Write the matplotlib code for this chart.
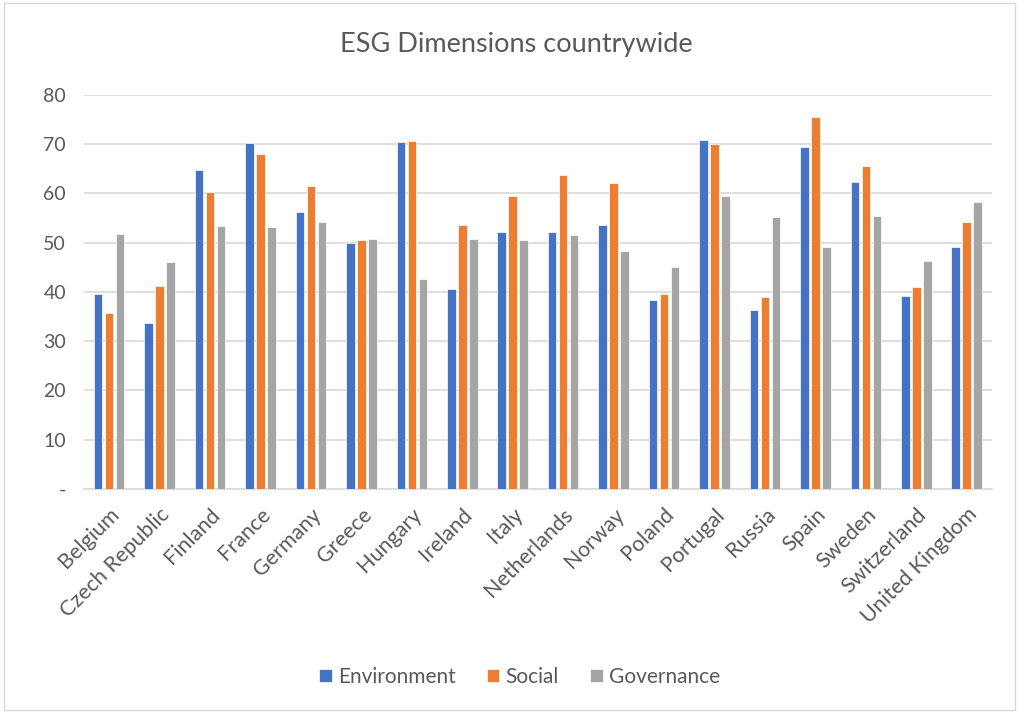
import numpy as np
import matplotlib
matplotlib.use('Agg')
import matplotlib.pyplot as plt
from matplotlib.patches import Rectangle

countries = ['Belgium', 'Czech Republic', 'Finland', 'France', 'Germany', 'Greece',
             'Hungary', 'Ireland', 'Italy', 'Netherlands', 'Norway', 'Poland',
             'Portugal', 'Russia', 'Spain', 'Sweden', 'Switzerland', 'United Kingdom']
environment = [39.6, 33.7, 64.7, 70.2, 56.3, 49.9, 70.5, 40.7, 52.2, 52.2, 53.7, 38.4,
               70.9, 36.4, 69.5, 62.4, 39.2, 49.1]
social = [35.7, 41.2, 60.3, 68.0, 61.6, 50.5, 70.6, 53.5, 59.5, 63.7, 62.1, 39.6,
          70.0, 38.9, 75.6, 65.5, 41.1, 54.3]
governance = [51.8, 46.0, 53.4, 53.2, 54.2, 50.7, 42.6, 50.7, 50.5, 51.6, 48.3, 45.1,
              59.5, 55.3, 49.1, 55.4, 46.2, 58.2]
yticks = [0, 10, 20, 30, 40, 50, 60, 70, 80]
ytick_labels = ['-', '10', '20', '30', '40', '50', '60', '70', '80']

plt.rcParams['font.family'] = ['Lato', 'DejaVu Sans']
text_color = '#595959'

fig = plt.figure(figsize=(10.19, 7.13), dpi=100)
ax = fig.add_axes([0.0824, 0.3142, 0.891, 0.5526])

x = np.arange(len(countries))
w = 0.17
off = 0.218
ax.bar(x - off, environment, w, color='#4472C4', edgecolor='white', linewidth=0.5, label='Environment', zorder=3)
ax.bar(x, social, w, color='#ED7D31', edgecolor='white', linewidth=0.5, label='Social', zorder=3)
ax.bar(x + off, governance, w, color='#A5A5A5', edgecolor='white', linewidth=0.5, label='Governance', zorder=3)

ax.set_xlim(-0.5, len(countries) - 0.5)
ax.set_ylim(0, 80)
ax.set_yticks(yticks)
ax.set_yticklabels(ytick_labels, fontsize=14, color=text_color)
ax.set_xticks(x)
ax.set_xticklabels(countries, rotation=45, ha='right', rotation_mode='anchor',
                   fontsize=15.5, color=text_color)
ax.tick_params(length=0, axis='both')
ax.tick_params(axis='y', pad=13)
ax.tick_params(axis='x', pad=11)
ax.grid(axis='y', color='#D9D9D9', linewidth=1.2, zorder=0)
for s in ['top', 'right', 'left']:
    ax.spines[s].set_visible(False)
ax.spines['bottom'].set_color('#D9D9D9')
ax.spines['bottom'].set_linewidth(1.2)

fig.text(0.507, 0.937, 'ESG Dimensions countrywide', ha='center', va='center',
         fontsize=19.5, color=text_color)

fig.legend(loc='center', bbox_to_anchor=(0.51, 0.051), ncol=3, frameon=False,
           fontsize=15, handlelength=0.6, handleheight=0.6, handletextpad=0.3,
           columnspacing=1.5, labelcolor=text_color)

# outer chart frame
fig.patches.append(Rectangle((0.004, 0.004), 0.992, 0.992, transform=fig.transFigure,
                             fill=False, edgecolor='#D9D9D9', linewidth=1))

fig.savefig('out.png', dpi=100)
